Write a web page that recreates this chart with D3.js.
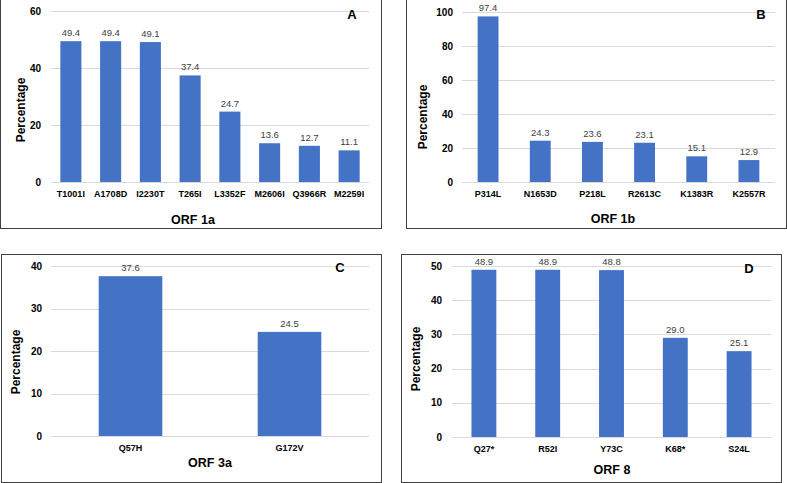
<!DOCTYPE html>
<html>
<head>
<meta charset="utf-8">
<script src="https://cdn.jsdelivr.net/npm/d3@7"></script>
<style>
  body { margin: 0; background: #fff; }
  svg { display: block; font-family: "Liberation Sans", Arial, sans-serif; }
</style>
</head>
<body>
<svg width="787" height="483"></svg>
<script>
// data
const orf1aLabels = ['T1001I', 'A1708D', 'I2230T', 'T265I', 'L3352F', 'M2606I', 'Q3966R', 'M2259I'];
const orf1aValues = [49.4, 49.4, 49.1, 37.4, 24.7, 13.6, 12.7, 11.1];

const orf1bLabels = ['P314L', 'N1653D', 'P218L', 'R2613C', 'K1383R', 'K2557R'];
const orf1bValues = [97.4, 24.3, 23.6, 23.1, 15.1, 12.9];

const orf3aLabels = ['Q57H', 'G172V'];
const orf3aValues = [37.6, 24.5];

const orf8Labels = ['Q27*', 'R52I', 'Y73C', 'K68*', 'S24L'];
const orf8Values = [48.9, 48.9, 48.8, 29.0, 25.1];

const yTicksA = [0, 20, 40, 60];
const yTicksB = [0, 20, 40, 60, 80, 100];
const yTicksC = [0, 10, 20, 30, 40];
const yTicksD = [0, 10, 20, 30, 40, 50];

const svg = d3.select('svg');

function panel(o) {
  const g = svg.append('g');

  // frame
  g.append('rect')
    .attr('x', o.box[0] + 0.5).attr('y', o.box[1] + 0.5)
    .attr('width', o.box[2] - o.box[0]).attr('height', o.box[3] - o.box[1])
    .attr('fill', 'none').attr('stroke', '#404040').attr('stroke-width', 1);

  const x = d3.scaleBand()
    .domain(o.labels)
    .range([o.x0, o.x1])
    .paddingInner(o.pad)
    .paddingOuter(o.pad / 2);

  const y = d3.scaleLinear()
    .domain([0, d3.max(o.ticks)])
    .range([o.y0, o.y1]);

  // gridlines + tick labels
  g.selectAll('.grid').data(o.ticks).enter()
    .append('line')
      .attr('x1', o.x0).attr('x2', o.x1)
      .attr('y1', d => Math.round(y(d)) + 0.5).attr('y2', d => Math.round(y(d)) + 0.5)
      .attr('stroke', '#d9d9d9').attr('stroke-width', 1);

  g.selectAll('.tick').data(o.ticks).enter()
    .append('text')
      .attr('x', o.tickX)
      .attr('y', d => y(d) + 3.5)
      .attr('text-anchor', 'end')
      .attr('font-size', 10).attr('font-weight', 'bold')
      .attr('fill', '#000')
      .text(d => d);

  // bars
  g.selectAll('.bar').data(o.values).enter()
    .append('rect')
      .attr('x', (d, i) => x(o.labels[i]))
      .attr('y', d => y(d))
      .attr('width', x.bandwidth())
      .attr('height', d => y(0) - y(d))
      .attr('fill', '#4472c4');

  // value labels
  g.selectAll('.val').data(o.values).enter()
    .append('text')
      .attr('x', (d, i) => x(o.labels[i]) + x.bandwidth() / 2)
      .attr('y', d => y(d) - 5)
      .attr('text-anchor', 'middle')
      .attr('font-size', 9.5)
      .attr('fill', '#404040')
      .text(d => d.toFixed(1));

  // category labels
  g.selectAll('.cat').data(o.labels).enter()
    .append('text')
      .attr('x', d => x(d) + x.bandwidth() / 2)
      .attr('y', o.y0 + 15)
      .attr('text-anchor', 'middle')
      .attr('font-size', 9).attr('font-weight', 'bold')
      .attr('fill', '#000')
      .text(d => d);

  // axis titles
  g.append('text')
    .attr('transform', `translate(${o.yTitle[0]},${o.yTitle[1]}) rotate(-90)`)
    .attr('text-anchor', 'middle')
    .attr('dy', '0.35em')
    .attr('font-size', 12).attr('font-weight', 'bold')
    .text('Percentage');

  g.append('text')
    .attr('x', o.xTitle[0]).attr('y', o.xTitle[1])
    .attr('text-anchor', 'middle')
    .attr('font-size', 12.5).attr('font-weight', 'bold')
    .text(o.title);

  g.append('text')
    .attr('x', o.letter[0]).attr('y', o.letter[1])
    .attr('text-anchor', 'middle')
    .attr('font-size', 13).attr('font-weight', 'bold')
    .text(o.tag);
}

panel({ labels: orf1aLabels, values: orf1aValues, ticks: yTicksA, title: 'ORF 1a', tag: 'A',
  box: [0, -2, 381, 228], x0: 51, x1: 369, y0: 182, y1: 11, pad: 0.47, tickX: 41,
  yTitle: [21, 110], xTitle: [193, 224], letter: [352, 19] });

panel({ labels: orf1bLabels, values: orf1bValues, ticks: yTicksB, title: 'ORF 1b', tag: 'B',
  box: [406, -2, 786, 228], x0: 462, x1: 775, y0: 182, y1: 12, pad: 0.6, tickX: 453,
  yTitle: [423, 117], xTitle: [613, 223], letter: [761, 19] });

panel({ labels: orf3aLabels, values: orf3aValues, ticks: yTicksC, title: 'ORF 3a', tag: 'C',
  box: [1, 254, 381, 482], x0: 51, x1: 369, y0: 436, y1: 266, pad: 0.6, tickX: 42,
  yTitle: [16, 362], xTitle: [210, 467], letter: [340, 272] });

panel({ labels: orf8Labels, values: orf8Values, ticks: yTicksD, title: 'ORF 8', tag: 'D',
  box: [401, 254, 781, 482], x0: 452, x1: 771, y0: 437, y1: 266, pad: 0.61, tickX: 442,
  yTitle: [416, 359], xTitle: [612, 474], letter: [749, 273] });
</script>
</body>
</html>
